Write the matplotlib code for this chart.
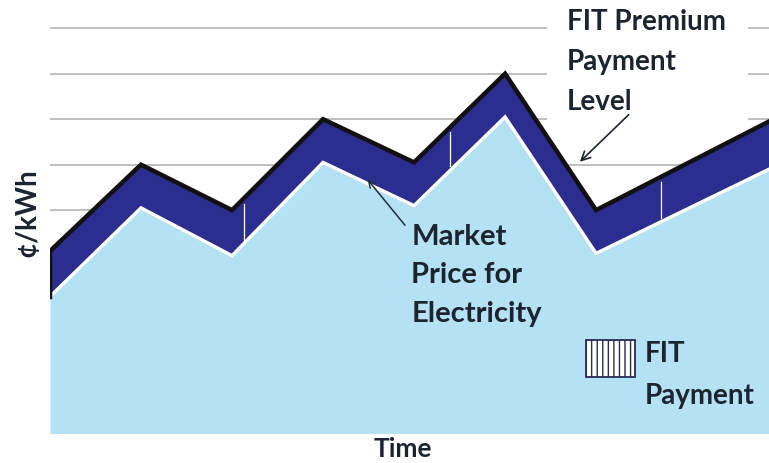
import numpy as np
import matplotlib.pyplot as plt
import matplotlib.patches as mpatches

# ── Data (time steps, c/kWh) ────────────────────────────────────────────────
time = [0, 1, 2, 3, 4, 5, 6, 7.9]
market_price = [3.1, 5.05, 4.0, 6.05, 5.1, 7.05, 4.05, 5.9]
premium_level = [4.1, 6.0, 5.0, 7.0, 6.05, 8.0, 5.0, 6.95]
grid_levels = [5, 6, 7, 8, 9]
stripe_times = [2.13, 4.40, 6.71]

NAVY = "#2b2e8e"
LIGHT = "#b5e1f4"
TXT = "#1c2430"
FONT = "Lato"

W, H = 769, 463
fig = plt.figure(figsize=(W / 100, H / 100), dpi=100)
ax = fig.add_axes([50 / W, 30 / H, 719 / W, 433 / H])
ax.set_xlim(0, 7.9)
ax.set_ylim(0.1, 9.62)
ax.axis("off")

for g in grid_levels:
    ax.axhline(g, color="#b4b4b4", lw=1.2, zorder=0)

# white panel behind the "FIT Premium" label (breaks the grid lines)
ax.add_patch(mpatches.Rectangle((497 / 719, (433 - 127) / 433), 201 / 719,
                                127 / 433, transform=ax.transAxes,
                                facecolor="white", edgecolor="none",
                                zorder=0.5))

ax.fill_between(time, 0, market_price, color=LIGHT, lw=0, zorder=1)
ax.fill_between(time, market_price, premium_level, color=NAVY, lw=0, zorder=2)
ax.plot(time, market_price, color="white", lw=2.4, zorder=3,
        solid_joinstyle="miter")
ax.plot(time, premium_level, color="#111111", lw=3.2, zorder=4,
        solid_joinstyle="miter")
ax.plot([time[0], time[0]], [market_price[0], premium_level[0]],
        color="#111111", lw=2.5, zorder=4)

# thin white separators inside the FIT band
for t in stripe_times:
    lo = np.interp(t, time, market_price)
    hi = np.interp(t, time, premium_level)
    ax.plot([t, t], [lo + 0.08, hi - 0.12], color="white", lw=0.9, zorder=3)

# ── Annotations ─────────────────────────────────────────────────────────────
ax.text(3.97, 4.70, "Market\nPrice for\nElectricity", ha="left", va="top",
        fontsize=21, fontweight="bold", family=FONT, color=TXT,
        linespacing=1.6, zorder=6)
ax.annotate("", xy=(3.47, 5.72), xytext=(3.92, 4.62),
            arrowprops=dict(arrowstyle="->", color="#1c3040", lw=1.1,
                            mutation_scale=12), zorder=6)

ax.text(5.68, 9.42, "FIT Premium\nPayment\nLevel", ha="left", va="top",
        fontsize=20, fontweight="bold", family=FONT, color=TXT,
        linespacing=1.66, zorder=6)
ax.annotate("", xy=(5.80, 6.02), xytext=(6.38, 7.14),
            arrowprops=dict(arrowstyle="->", color="#1c2430", lw=1.2,
                            mutation_scale=16), zorder=6)

# ── Legend swatch ───────────────────────────────────────────────────────────
swatch = mpatches.Rectangle((536 / 719, 56 / 433), 49 / 719, 37 / 433,
                            transform=ax.transAxes, facecolor="white",
                            edgecolor="#2a2a55", hatch="|||", lw=1.3,
                            zorder=6)
ax.add_patch(swatch)
ax.text(595 / 719, 92 / 433, "FIT\nPayment", transform=ax.transAxes,
        ha="left", va="top", fontsize=20, fontweight="bold", family=FONT,
        color=TXT, linespacing=1.75, zorder=6)

fig.text(403 / W, 1 - 449 / H, "Time", ha="center", va="center",
         fontsize=19, fontweight="bold", family=FONT, color=TXT)
fig.text(27 / W, 1 - 213 / H, "¢/kWh", ha="center", va="center",
         rotation=90, fontsize=20, fontweight="bold", family=FONT, color=TXT)

fig.savefig("out.png", dpi=100, facecolor="white")
